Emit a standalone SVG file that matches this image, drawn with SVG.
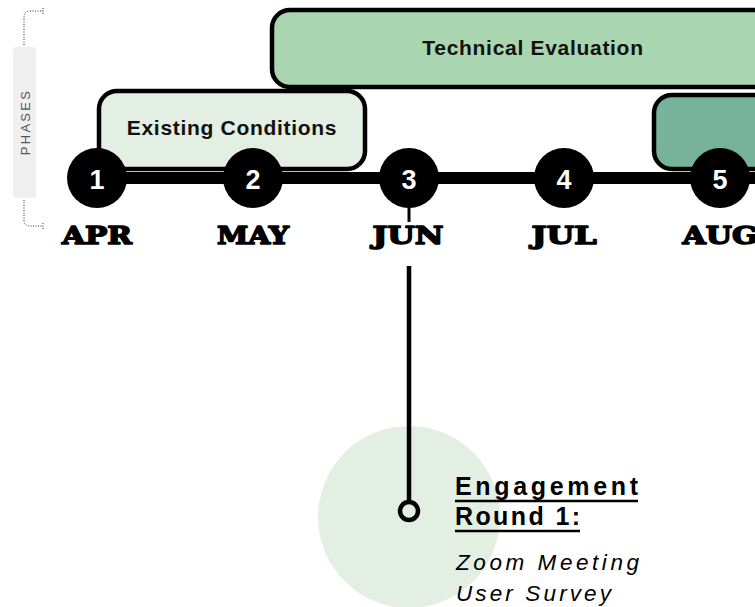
<svg xmlns="http://www.w3.org/2000/svg" width="755" height="607" viewBox="0 0 755 607">
<style>
.phase{stroke:#000;stroke-width:4.5}
.ptxt{font-family:"Liberation Sans",Arial,sans-serif;font-weight:bold;font-size:21px;letter-spacing:0.7px;fill:#111;text-anchor:middle}
.dot{fill:#000}
.num{font-family:"Liberation Sans",Arial,sans-serif;font-weight:bold;font-size:27px;fill:#fff;text-anchor:middle}
.mon{font-family:"DejaVu Serif","Liberation Serif",serif;font-weight:bold;font-size:25px;fill:#000;stroke:#000;stroke-width:1.6;stroke-linejoin:round;text-anchor:middle}
.brk{fill:none;stroke:#333;stroke-width:1;stroke-dasharray:1 1.5}
.h{font-family:"Liberation Sans",Arial,sans-serif;font-weight:bold;font-size:25px;fill:#000}
.it{font-family:"Liberation Sans",Arial,sans-serif;font-style:italic;font-size:22.5px;fill:#000}
</style>
<rect width="755" height="607" fill="#fff"/>
<g id="phases-label">
<path class="brk" d="M24,45 V17 Q24,11 30,11 H43 M43,8 V14"/>
<path class="brk" d="M24,200 V220 Q24,226 30,226 H43 M43,223 V229"/>
<rect x="13" y="47" width="23" height="151" rx="4" fill="#efefef"/>
<text transform="translate(30,122) rotate(-90)" font-family="Liberation Sans,Arial,sans-serif" font-size="13" letter-spacing="2.3" fill="#555" text-anchor="middle">PHASES</text>
</g>
<g id="phase-technical">
<rect class="phase" x="272" y="10" width="560" height="77" rx="18" fill="#a9d6b0"/>
<text class="ptxt" x="533" y="55">Technical Evaluation</text>
</g>
<g id="phase-existing">
<rect class="phase" x="99" y="91" width="266" height="78" rx="18" fill="#e2efe2"/>
<text class="ptxt" x="232" y="135">Existing Conditions</text>
</g>
<g id="phase-next">
<rect class="phase" x="654" y="95" width="160" height="74" rx="18" fill="#76b39a"/>
</g>
<g id="connectors">
<rect x="97" y="172" width="670" height="12" fill="#000"/>
<line x1="409" y1="205" x2="409" y2="222" stroke="#000" stroke-width="3"/>
</g>
<g id="engagement-bg">
<circle cx="409" cy="517" r="91" fill="#e2efe2"/>
</g>
<g id="connector-engagement">
<line x1="409" y1="266" x2="409" y2="502" stroke="#000" stroke-width="4.5"/>
<circle cx="409" cy="511" r="9" fill="none" stroke="#000" stroke-width="4.5"/>
</g>
<g id="m1"><circle class="dot" cx="97" cy="178" r="30"/><text class="num" x="97" y="189">1</text><text class="mon" x="97" y="244" textLength="70" lengthAdjust="spacingAndGlyphs">APR</text></g>
<g id="m2"><circle class="dot" cx="253" cy="178" r="30"/><text class="num" x="253" y="189">2</text><text class="mon" x="253" y="244" textLength="72" lengthAdjust="spacingAndGlyphs">MAY</text></g>
<g id="m3"><circle class="dot" cx="409" cy="178" r="30"/><text class="num" x="409" y="189">3</text><text class="mon" x="408" y="244" textLength="71" lengthAdjust="spacingAndGlyphs">JUN</text></g>
<g id="m4"><circle class="dot" cx="564" cy="178" r="30"/><text class="num" x="564" y="189">4</text><text class="mon" x="564" y="244" textLength="65" lengthAdjust="spacingAndGlyphs">JUL</text></g>
<g id="m5"><circle class="dot" cx="720" cy="178" r="30"/><text class="num" x="720" y="189">5</text><text class="mon" x="720" y="244" textLength="75" lengthAdjust="spacingAndGlyphs">AUG</text></g>
<g id="engagement-text">
<text class="h" x="455" y="495" textLength="183">Engagement</text>
<line x1="455" y1="501" x2="638" y2="501" stroke="#000" stroke-width="2.5"/>
<text class="h" x="455" y="525" textLength="125">Round 1:</text>
<line x1="455" y1="531" x2="580" y2="531" stroke="#000" stroke-width="2.5"/>
<text class="it" x="456" y="570" textLength="183">Zoom Meeting</text>
<text class="it" x="456" y="601" textLength="155">User Survey</text>
</g>
</svg>
